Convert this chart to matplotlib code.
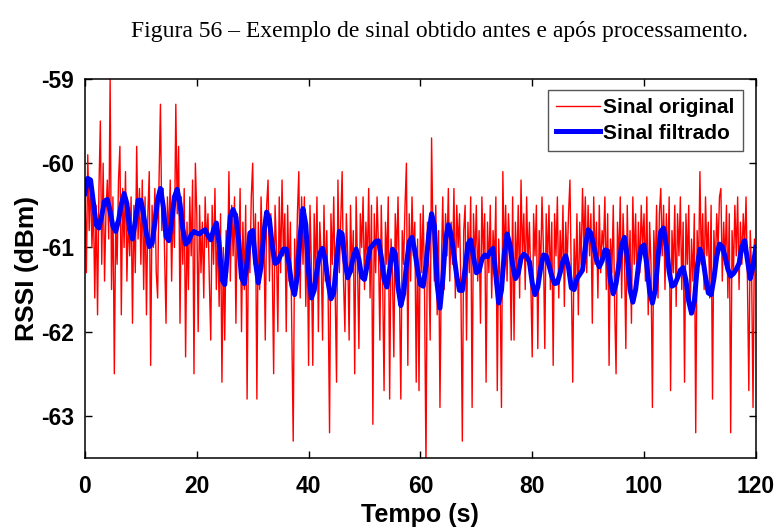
import matplotlib
matplotlib.use("Agg")
import matplotlib.pyplot as plt
import numpy as np

# sampling steps (s) of the two series
dt_original = 0.25
dt_filtrado = 0.5

# raw RSSI samples (dBm), one row = 5 s
sinal_original = [
    -60.3, -61.3, -59.9, -60.8, -60.2, -61.0, -60.4, -61.6, -60.5, -61.8, -60.3, -59.5, -61.2, -60.0, -61.4, -60.6, -60.2, -60.9, -59.0, -61.5,
    -60.4, -62.5, -60.7, -61.2, -60.2, -59.8, -61.8, -60.3, -61.0, -60.1, -61.4, -60.6, -61.1, -60.4, -61.9, -60.5, -61.3, -59.8, -60.9, -60.3,
    -61.2, -60.2, -61.5, -60.4, -61.8, -60.6, -60.1, -62.4, -60.5, -61.0, -60.3, -61.3, -61.6, -60.2, -59.3, -60.8, -60.3, -61.1, -61.9, -60.4,
    -60.9, -60.2, -61.4, -60.5, -61.0, -59.3, -60.6, -59.8, -61.9, -60.4, -61.2, -60.3, -62.3, -60.7, -61.5, -60.4, -61.1, -60.2, -62.5, -60.0,
    -60.6, -62.0, -60.5, -61.3, -60.7, -61.6, -60.4, -61.0, -60.6, -61.4, -62.1, -60.5, -61.2, -60.3, -61.5, -60.8, -61.7, -60.6, -62.6, -61.0,
    -62.1, -60.8, -61.3, -60.1, -61.4, -60.5, -61.1, -60.4, -61.9, -60.6, -61.2, -60.3, -62.0, -60.7, -61.5, -60.5, -62.8, -60.9, -61.3, -60.4,
    -60.0, -61.2, -60.6, -62.8, -60.7, -61.5, -60.4, -61.1, -60.8, -62.1, -60.5, -60.2, -61.4, -60.6, -61.2, -62.5, -60.5, -61.0, -62.0, -60.4,
    -61.3, -60.2, -61.1, -60.6, -62.0, -60.5, -61.4, -60.7, -62.0, -63.3, -60.9, -61.5, -60.6, -60.1, -61.6, -60.4, -61.2, -60.4, -61.7, -60.8,
    -62.4, -60.5, -61.2, -62.4, -60.6, -61.3, -60.4, -62.0, -60.7, -61.1, -62.1, -60.5, -61.4, -60.8, -61.6, -63.2, -60.6, -61.2, -60.4, -61.5,
    -62.6, -60.2, -61.3, -60.7, -60.1, -61.4, -62.0, -60.6, -61.1, -62.1, -60.5, -61.3, -60.8, -62.5, -60.4, -61.2, -62.2, -60.6, -61.0, -60.4,
    -61.5, -60.7, -61.2, -60.3, -61.6, -60.5, -63.1, -60.6, -61.3, -60.4, -61.0, -62.1, -60.5, -61.4, -62.7, -60.7, -61.2, -60.4, -62.8, -60.9,
    -61.3, -62.3, -60.6, -61.1, -60.4, -61.5, -62.8, -60.8, -61.2, -60.5, -60.0, -62.4, -60.6, -61.4, -60.4, -61.1, -60.7, -62.6, -60.9, -62.7,
    -60.6, -61.3, -60.5, -61.6, -63.6, -60.7, -61.2, -62.1, -59.7, -60.9, -61.4, -60.5, -61.8, -60.8, -62.9, -61.2, -60.4, -61.5, -60.6, -61.1,
    -60.3, -61.4, -60.7, -61.2, -60.3, -61.6, -60.5, -61.0, -60.6, -61.5, -63.3, -60.8, -60.5, -62.1, -60.7, -61.3, -60.4, -62.9, -60.6, -61.2,
    -60.5, -61.4, -60.8, -61.9, -60.4, -61.1, -60.6, -62.6, -60.7, -61.3, -60.5, -61.6, -60.8, -61.2, -60.4, -62.7, -60.9, -61.4, -62.9, -60.1,
    -61.2, -60.5, -61.4, -60.6, -61.0, -62.1, -60.4, -62.1, -60.7, -61.3, -60.5, -61.6, -60.2, -61.1, -60.6, -61.5, -60.4, -61.2, -60.7, -61.4,
    -62.3, -60.6, -61.1, -60.5, -62.2, -60.8, -61.3, -60.4, -61.0, -62.2, -60.6, -61.2, -60.5, -61.5, -60.7, -62.4, -60.6, -61.1, -60.4, -61.6,
    -60.8, -61.3, -60.5, -61.7, -60.7, -61.2, -60.6, -60.2, -61.4, -62.6, -60.9, -61.5, -60.6, -61.8, -60.7, -61.2, -60.3, -61.0, -60.4, -61.3,
    -60.5, -61.1, -60.6, -61.9, -60.4, -61.2, -60.7, -61.6, -60.5, -61.3, -60.8, -61.0, -60.4, -61.5, -60.6, -62.4, -60.9, -61.3, -60.5, -61.7,
    -62.5, -60.7, -61.2, -60.4, -61.6, -60.6, -61.1, -62.2, -60.5, -61.4, -60.8, -61.9, -60.4, -61.2, -60.6, -61.5, -60.7, -61.3, -60.5, -61.0,
    -60.6, -61.4, -60.4, -61.8, -60.7, -61.2, -62.9, -60.8, -61.3, -60.5, -61.6, -60.6, -60.3, -61.1, -60.5, -61.5, -60.6, -61.2, -60.4, -62.7,
    -60.8, -61.3, -60.5, -61.7, -60.6, -61.1, -60.4, -61.5, -60.7, -62.6, -60.6, -61.2, -60.5, -61.8, -60.9, -61.4, -60.6, -63.2, -60.8, -61.3,
    -60.1, -61.2, -60.6, -61.5, -60.4, -61.1, -60.7, -61.6, -60.5, -62.8, -60.8, -61.3, -60.6, -61.0, -60.4, -60.3, -61.4, -60.7, -61.2, -60.5,
    -61.6, -60.6, -63.2, -60.8, -61.3, -60.5, -61.1, -60.4, -61.5, -60.7, -61.2, -60.6, -61.0, -60.4, -61.4, -62.7, -60.8, -61.3, -62.9, -60.9,
    -61.2,
]

# filtered RSSI (dBm), one row = 5 s
sinal_filtrado = [
    -60.36, -60.18, -60.20, -60.47, -60.73, -60.77, -60.62, -60.45, -60.43, -60.57,
    -60.75, -60.81, -60.68, -60.49, -60.36, -60.48, -60.79, -60.90, -60.69, -60.44,
    -60.44, -60.62, -60.84, -60.99, -60.95, -60.71, -60.43, -60.30, -60.51, -60.87,
    -60.92, -60.69, -60.40, -60.31, -60.49, -60.78, -60.96, -60.93, -60.85, -60.81,
    -60.83, -60.84, -60.81, -60.79, -60.86, -60.91, -60.79, -60.71, -60.96, -61.38,
    -61.44, -61.05, -60.63, -60.55, -60.64, -60.93, -61.36, -61.43, -61.17, -60.83,
    -60.80, -61.17, -61.42, -61.23, -60.83, -60.58, -60.67, -60.98, -61.19, -61.17,
    -61.09, -61.02, -61.02, -61.20, -61.45, -61.56, -61.33, -60.85, -60.54, -60.73,
    -61.29, -61.60, -61.51, -61.27, -61.07, -61.01, -61.16, -61.42, -61.61, -61.54,
    -61.16, -60.81, -60.84, -61.17, -61.36, -61.28, -61.11, -61.02, -61.14, -61.35,
    -61.38, -61.20, -61.01, -60.97, -60.93, -60.92, -61.11, -61.38, -61.47, -61.26,
    -61.02, -61.07, -61.47, -61.69, -61.55, -61.21, -60.93, -60.88, -61.04, -61.27,
    -61.44, -61.46, -61.21, -60.84, -60.60, -60.74, -61.44, -61.72, -61.38, -60.91,
    -60.73, -60.85, -61.09, -61.34, -61.51, -61.51, -61.25, -60.96, -60.91, -61.11,
    -61.30, -61.28, -61.14, -61.09, -61.11, -61.05, -61.01, -61.34, -61.66, -61.51,
    -61.08, -60.84, -60.96, -61.21, -61.37, -61.31, -61.13, -61.08, -61.11, -61.17,
    -61.42, -61.56, -61.47, -61.25, -61.09, -61.10, -61.21, -61.34, -61.43, -61.42,
    -61.30, -61.16, -61.10, -61.24, -61.48, -61.50, -61.37, -61.32, -61.27, -60.99,
    -60.79, -60.83, -60.98, -61.15, -61.23, -61.16, -61.03, -61.04, -61.40, -61.55,
    -61.43, -61.20, -60.97, -60.88, -61.11, -61.50, -61.65, -61.50, -61.22, -61.00,
    -60.97, -61.21, -61.52, -61.66, -61.51, -61.12, -60.81, -60.77, -60.99, -61.29,
    -61.46, -61.44, -61.36, -61.27, -61.24, -61.39, -61.64, -61.78, -61.64, -61.24,
    -61.02, -61.12, -61.35, -61.54, -61.56, -61.37, -61.11, -60.96, -60.99, -61.11,
    -61.26, -61.34, -61.31, -61.26, -61.19, -60.99, -60.92, -61.15, -61.37, -61.23,
    -61.00,
]

x_ticks = [0, 20, 40, 60, 80, 100, 120]
y_ticks = [-63, -62, -61, -60, -59]

t_original = np.arange(len(sinal_original)) * dt_original
t_filtrado = np.arange(len(sinal_filtrado)) * dt_filtrado

plt.rcParams['font.family'] = ['Liberation Sans', 'DejaVu Sans']
plt.rcParams['axes.unicode_minus'] = False

fig = plt.figure(figsize=(7.76, 5.29), dpi=100)
ax = fig.add_axes([0.1095, 0.1342, 0.8645, 0.7165])

ax.plot(t_original, sinal_original, color='#ff0000', linewidth=1.0, label='Sinal original')
ax.plot(t_filtrado, sinal_filtrado, color='#0000ff', linewidth=3.6, label='Sinal filtrado')

ax.set_xlim(0, 120)
ax.set_ylim(-63.5, -59)
ax.set_xticks(x_ticks)
ax.set_yticks(y_ticks)
ax.tick_params(direction='in', top=True, right=True, length=5, width=1,
               labelsize=16.5)
ax.tick_params(axis='x', pad=12)
ax.tick_params(axis='y', pad=8)
for lab in ax.get_xticklabels() + ax.get_yticklabels():
    lab.set_fontweight('bold')
for sp in ax.spines.values():
    sp.set_linewidth(1.1)

ax.set_xlabel('Tempo (s)', fontsize=18, fontweight='bold', labelpad=4)
ax.set_ylabel('RSSI (dBm)', fontsize=19, fontweight='bold', labelpad=1)

leg = ax.legend(loc='upper right', bbox_to_anchor=(0.981, 0.971), borderaxespad=0,
                fancybox=False, edgecolor='#555555', framealpha=1,
                prop={'size': 15, 'weight': 'bold'}, handlelength=2.1,
                handletextpad=0.15, labelspacing=0.3, borderpad=0.4)
leg.get_frame().set_linewidth(1.0)

fig.text(0.566, 0.94, 'Figura 56 – Exemplo de sinal obtido antes e após processamento.',
         ha='center', va='center', fontsize=17, family='Liberation Serif')

fig.savefig('out.png', dpi=100)
